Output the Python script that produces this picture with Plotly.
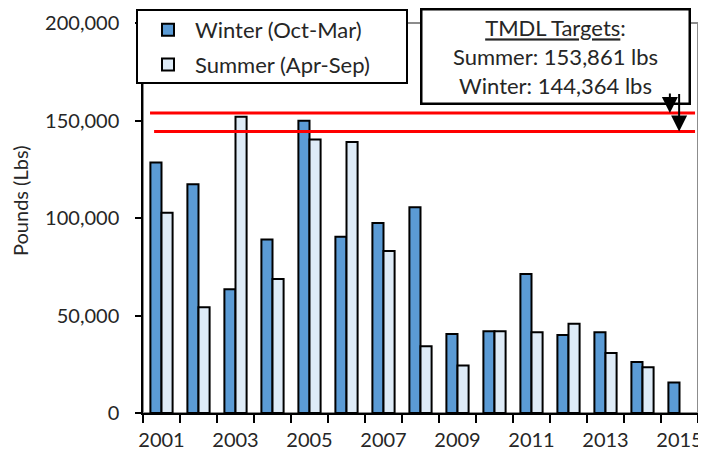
import plotly.graph_objects as go

years = list(range(2001, 2016))
winter = [128500, 117300, 63400, 89000, 149900, 90400, 97400, 105500, 40500, 41900, 71300, 40000, 41400, 26200, 15700]
summer = [102700, 54200, 151900, 68700, 140300, 139000, 83100, 34200, 24300, 41900, 41400, 45800, 30800, 23400, None]
tmdl_summer = 153861
tmdl_winter = 144364
label_years = [2001, 2003, 2005, 2007, 2009, 2011, 2013, 2015]

FONT = "Lato"
TXT = "#262626"

fig = go.Figure()
fig.add_trace(go.Bar(x=years, y=winter, name="Winter (Oct-Mar)", legendgroup="w",
                     marker=dict(color="#5B9BD5", line=dict(color="black", width=2))))
fig.add_trace(go.Bar(x=years, y=summer, name="Summer (Apr-Sep)", legendgroup="s",
                     marker=dict(color="#DEEBF7", line=dict(color="black", width=2))))

x_lo, x_hi = years[0] - 0.5, years[-1] + 0.5

# TMDL target lines
fig.add_trace(go.Scatter(x=[x_lo + 0.19, x_hi - 0.08], y=[tmdl_summer, tmdl_summer], mode="lines",
                         line=dict(color="#FF0000", width=3), showlegend=False, hoverinfo="skip"))
fig.add_trace(go.Scatter(x=[x_lo + 0.3, x_hi - 0.08], y=[tmdl_winter, tmdl_winter], mode="lines",
                         line=dict(color="#FF0000", width=3), showlegend=False, hoverinfo="skip"))

# plot-area border (gray, top and right)
fig.add_shape(type="rect", xref="paper", yref="paper", x0=0, x1=1, y0=0, y1=1,
              line=dict(color="#8c8c8c", width=2), layer="below")

# legend frame
fig.add_shape(type="rect", xref="paper", yref="paper",
              x0=(137 - 143) / 555, x1=(407 - 143) / 555,
              y0=(413 - 83) / 390, y1=(413 - 10) / 390,
              line=dict(color="black", width=2), fillcolor="white", layer="above")

fig.add_annotation(xref="paper", yref="paper", x=0.743, y=0.915,
                   text="<u>TMDL Targets</u>:<br>Summer: " + f"{tmdl_summer:,}" + " lbs<br>Winter: " + f"{tmdl_winter:,}" + " lbs",
                   showarrow=False, align="center", xanchor="center", yanchor="middle",
                   width=266, height=92, borderpad=0, bgcolor="white",
                   bordercolor="black", borderwidth=2.5,
                   font=dict(family=FONT, size=22, color=TXT))

# arrows pointing at the target lines
fig.add_annotation(x=2014.74, y=tmdl_summer, ax=0, ay=-21, text="", showarrow=True,
                   arrowhead=2, arrowsize=1.6, arrowwidth=2, arrowcolor="black")
fig.add_annotation(x=2014.99, y=tmdl_winter, ax=0, ay=-39, text="", showarrow=True,
                   arrowhead=2, arrowsize=1.6, arrowwidth=2, arrowcolor="black")

# y-axis title
fig.add_annotation(xref="paper", yref="paper", x=(20 - 143) / 555, y=(413 - 201) / 390,
                   text="Pounds (Lbs)", textangle=-90, showarrow=False,
                   xanchor="center", yanchor="middle",
                   font=dict(family=FONT, size=20, color=TXT))

fig.update_layout(
    width=698, height=449,
    margin=dict(l=135, r=8, t=15, b=44, autoexpand=False),
    paper_bgcolor="white", plot_bgcolor="white",
    barmode="group", bargap=0.4, bargroupgap=0,
    font=dict(family=FONT, size=20, color=TXT),
    legend=dict(x=(141 - 143) / 555, y=(413 - 9) / 390,
                xanchor="left", yanchor="top", bgcolor="rgba(0,0,0,0)",
                borderwidth=0, tracegroupgap=3, itemwidth=44,
                font=dict(family=FONT, size=22, color=TXT)),
    showlegend=True,
)
fig.update_xaxes(range=[x_lo, x_hi], tickvals=label_years, ticktext=[str(y) for y in label_years],
                 ticks="", showgrid=False, zeroline=False, tickangle=0,
                 showline=True, linecolor="black", linewidth=1.5,
                 ticklabelstandoff=8,
                 minor=dict(tickvals=[y - 0.5 for y in years] + [x_hi], ticks="outside",
                            ticklen=8, tickcolor="black", tickwidth=1.5, showgrid=False))
fig.update_yaxes(range=[0, 200000], dtick=50000, tickformat=",", ticks="outside", ticklen=6,
                 tickcolor="black", tickwidth=1.5, showgrid=False, zeroline=False,
                 showline=True, linecolor="black", linewidth=1.5, ticklabelstandoff=12)

fig.write_html("out.html")
